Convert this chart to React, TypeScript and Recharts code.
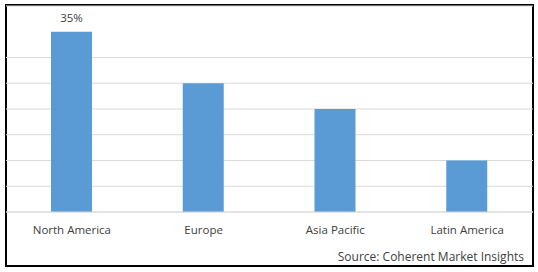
import { BarChart, Bar, XAxis, YAxis, CartesianGrid, LabelList } from "recharts";

const regions = ["North America", "Europe", "Asia Pacific", "Latin America"];
const shares = [35, 25, 20, 10];
const shareLabels = ["35%", "", "", ""];
const yTicks = [0, 5, 10, 15, 20, 25, 30, 35, 40];

const data = regions.map((region, i) => ({
  region,
  share: shares[i],
  label: shareLabels[i],
}));

const font = "'Open Sans', sans-serif";

export default function App() {
  return (
    <div style={{ position: "absolute", left: 0, top: 0, width: 538, height: 272, background: "#fff" }}>
      <div
        style={{
          position: "absolute",
          left: 5,
          top: 4,
          width: 525,
          height: 259,
          border: "2px solid #000",
        }}
      />
      <BarChart
        width={538}
        height={272}
        data={data}
        margin={{ top: 6, right: 5, left: 6, bottom: 0 }}
      >
        <CartesianGrid vertical={false} stroke="#d9d9d9" />
        <XAxis
          dataKey="region"
          height={60}
          axisLine={{ stroke: "#d9d9d9" }}
          tickLine={false}
          tickSize={0}
          tickMargin={14}
          tick={{ fill: "#404040", fontSize: 11.5, fontFamily: font }}
        />
        <YAxis hide domain={[0, 40]} ticks={yTicks} />
        <Bar dataKey="share" fill="#5b9bd5" barSize={41} isAnimationActive={false}>
          <LabelList
            dataKey="label"
            position="top"
            offset={10}
            fill="#404040"
            fontSize={11.5}
            fontFamily={font}
          />
        </Bar>
      </BarChart>
      <div
        style={{
          position: "absolute",
          right: 14,
          top: 248,
          fontFamily: font,
          fontSize: 12,
          color: "#404040",
          whiteSpace: "nowrap",
        }}
      >
        Source: Coherent Market Insights
      </div>
    </div>
  );
}
